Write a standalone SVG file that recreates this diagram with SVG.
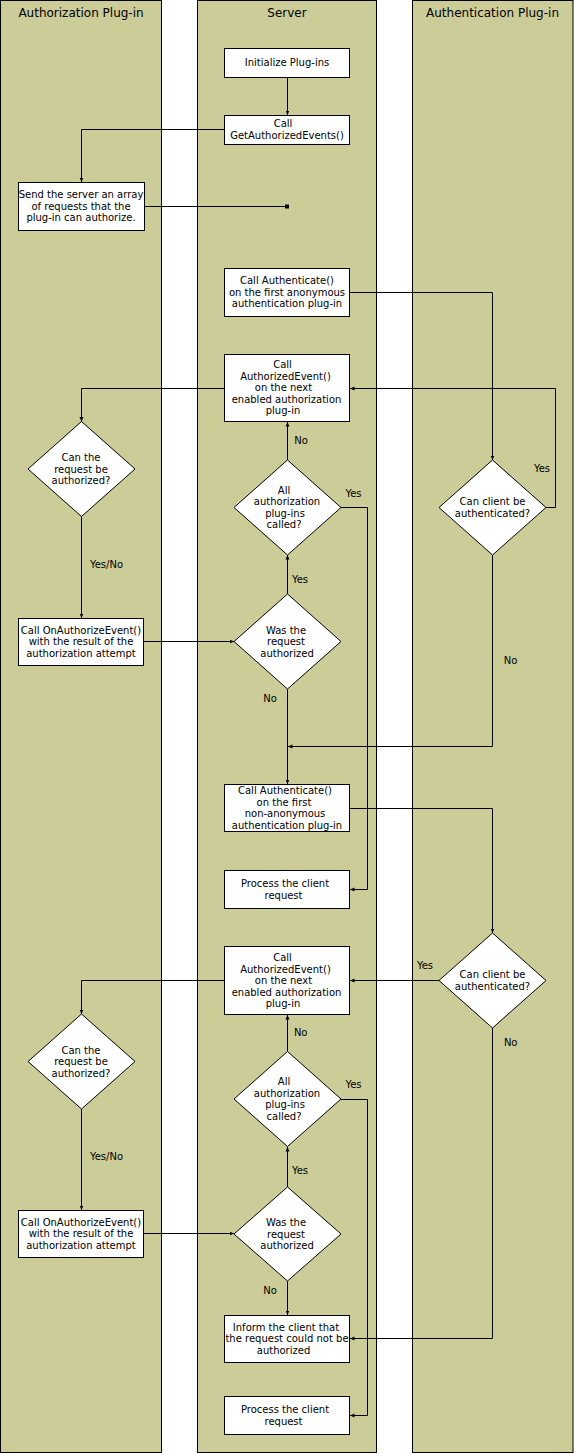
<svg xmlns="http://www.w3.org/2000/svg" width="574" height="1454" viewBox="0 0 574 1454">
<style>
.lane{fill:#CCCC99;stroke:#000;stroke-width:1}
.box{fill:#fff;stroke:#000;stroke-width:1}
.t{font-family:"DejaVu Sans",Verdana,sans-serif;font-size:10px;text-anchor:middle;fill:#000}
.h{font-family:"DejaVu Sans",Verdana,sans-serif;font-size:12px;text-anchor:middle;fill:#000}
.c{fill:none;stroke:#000;stroke-width:1;marker-end:url(#a)}
.cs{fill:none;stroke:#000;stroke-width:1;marker-end:url(#sq)}
</style>
<defs>
<marker id="a" markerUnits="userSpaceOnUse" markerWidth="5" markerHeight="5" viewBox="0 0 5 5" refX="4.5" refY="2.5" orient="auto">
<path d="M0,0.5 L4.5,2.5 L0,4.5 z" fill="#000"/>
</marker>
<marker id="sq" markerUnits="userSpaceOnUse" markerWidth="5" markerHeight="5" viewBox="0 0 5 5" refX="2.5" refY="2.5" orient="auto">
<rect x="0.5" y="0.5" width="4" height="4" fill="#000"/>
</marker>
</defs>
<rect width="574" height="1454" fill="#fff"/>
<g id="lanes">
<rect class="lane" x="0.5" y="0.5" width="161" height="1452"/>
<rect class="lane" x="197.5" y="0.5" width="179" height="1452"/>
<rect class="lane" x="412.5" y="0.5" width="160.5" height="1452"/>
<text class="h" x="81" y="17">Authorization Plug-in</text>
<text class="h" x="287" y="17">Server</text>
<text class="h" x="492.5" y="17">Authentication Plug-in</text>
</g>
<g id="connectors">
<path class="c" d="M287.5,77.5 V115"/>
<path class="c" d="M224.5,129.5 H81.5 V182"/>
<path class="cs" d="M144.5,206.5 H287"/>
<path class="c" d="M349.5,292.5 H492.5 V460"/>
<path class="c" d="M546,507.5 H555.5 V388.5 H350"/>
<path class="c" d="M224.5,388.5 H81.5 V421.5"/>
<path class="c" d="M287.5,460 V422"/>
<path class="c" d="M81.5,516.5 V618"/>
<path class="c" d="M143.5,641.5 H234"/>
<path class="c" d="M287.5,594 V555"/>
<path class="c" d="M341,507.5 H367.5 V889.5 H350"/>
<path class="c" d="M287.5,689 V784"/>
<path class="c" d="M492.5,555 V746.5 H288"/>
<path class="c" d="M349.5,808.5 H492.5 V933"/>
<path class="c" d="M439,980.5 H350"/>
<path class="c" d="M224.5,980.5 H81.5 V1014"/>
<path class="c" d="M287.5,1051.5 V1015"/>
<path class="c" d="M81.5,1109 V1210"/>
<path class="c" d="M143.5,1233.5 H234"/>
<path class="c" d="M287.5,1187 V1147"/>
<path class="c" d="M341,1099.5 H367.5 V1415.5 H350"/>
<path class="c" d="M287.5,1281 V1315"/>
<path class="c" d="M492.5,1028 V1338.5 H350"/>
<text class="t" x="542" y="472">Yes</text>
<text class="t" x="301" y="443.5">No</text>
<text class="t" x="106.5" y="568">Yes/No</text>
<text class="t" x="300" y="583">Yes</text>
<text class="t" x="353.5" y="496.5">Yes</text>
<text class="t" x="270" y="702">No</text>
<text class="t" x="510.5" y="664">No</text>
<text class="t" x="425" y="969">Yes</text>
<text class="t" x="300.7" y="1036">No</text>
<text class="t" x="106.5" y="1160">Yes/No</text>
<text class="t" x="300" y="1174">Yes</text>
<text class="t" x="353.5" y="1088">Yes</text>
<text class="t" x="270" y="1294">No</text>
<text class="t" x="510.7" y="1046">No</text>
</g>
<g id="n1"><rect class="box" x="224.5" y="48.5" width="125" height="29"/>
<text class="t" x="287" y="66">Initialize Plug-ins</text></g>
<g id="n2"><rect class="box" x="224.5" y="115.5" width="125" height="29"/>
<text class="t" x="283" y="127">Call</text><text class="t" x="287" y="138.5">GetAuthorizedEvents()</text></g>
<g id="n3"><rect class="box" x="18.5" y="182.5" width="126" height="48"/>
<text class="t" x="81" y="198">Send the server an array</text><text class="t" x="81" y="209.5">of requests that the</text><text class="t" x="81" y="221">plug-in can authorize.</text></g>
<g id="n4"><rect class="box" x="224.5" y="268.5" width="125" height="48"/>
<text class="t" x="287" y="284">Call Authenticate()</text><text class="t" x="287" y="295.5">on the first anonymous</text><text class="t" x="287" y="307">authentication plug-in</text></g>
<g id="n5"><rect class="box" x="224.5" y="354.5" width="125" height="67"/>
<text class="t" x="282.5" y="368">Call</text><text class="t" x="285.5" y="379.5">AuthorizedEvent()</text><text class="t" x="283.5" y="391">on the next</text><text class="t" x="286.5" y="402.5">enabled authorization</text><text class="t" x="283" y="414">plug-in</text></g>
<g id="n6"><polygon class="box" points="81.5,421.5 135,469 81.5,516.5 28,469"/>
<text class="t" x="81" y="461">Can the</text><text class="t" x="81" y="472.5">request be</text><text class="t" x="81" y="484">authorized?</text></g>
<g id="n7"><polygon class="box" points="287.5,460 341,507.5 287.5,555 234,507.5"/>
<text class="t" x="284" y="493.5">All</text><text class="t" x="287" y="505">authorization</text><text class="t" x="285" y="516.5">plug-ins</text><text class="t" x="284" y="528">called?</text></g>
<g id="n8"><polygon class="box" points="492.5,460 546,507.5 492.5,555 439,507.5"/>
<text class="t" x="492.5" y="505">Can client be</text><text class="t" x="492.5" y="516.5">authenticated?</text></g>
<g id="n9"><rect class="box" x="18.5" y="618.5" width="125" height="47"/>
<text class="t" x="81" y="633.5">Call OnAuthorizeEvent()</text><text class="t" x="81" y="645">with the result of the</text><text class="t" x="81" y="656.5">authorization attempt</text></g>
<g id="n10"><polygon class="box" points="287.5,594 341,641.5 287.5,689 234,641.5"/>
<text class="t" x="286" y="633.5">Was the</text><text class="t" x="286" y="645">request</text><text class="t" x="287" y="656.5">authorized</text></g>
<g id="n11"><rect class="box" x="224.5" y="784.5" width="125" height="47"/>
<text class="t" x="285" y="794">Call Authenticate()</text><text class="t" x="284" y="805.5">on the first</text><text class="t" x="285" y="817">non-anonymous</text><text class="t" x="287" y="828.5">authentication plug-in</text></g>
<g id="n12"><rect class="box" x="224.5" y="870.5" width="125" height="38"/>
<text class="t" x="285" y="887">Process the client</text><text class="t" x="283.5" y="898.5">request</text></g>
<g id="n13"><rect class="box" x="224.5" y="946.5" width="125" height="68"/>
<text class="t" x="282.5" y="961">Call</text><text class="t" x="285.5" y="972.5">AuthorizedEvent()</text><text class="t" x="283.5" y="984">on the next</text><text class="t" x="286.5" y="995.5">enabled authorization</text><text class="t" x="283" y="1007">plug-in</text></g>
<g id="n14"><polygon class="box" points="492.5,933 546,980.5 492.5,1028 439,980.5"/>
<text class="t" x="492.5" y="978">Can client be</text><text class="t" x="492.5" y="989.5">authenticated?</text></g>
<g id="n15"><polygon class="box" points="81.5,1014 135,1061.5 81.5,1109 28,1061.5"/>
<text class="t" x="81" y="1053.5">Can the</text><text class="t" x="81" y="1065">request be</text><text class="t" x="81" y="1076.5">authorized?</text></g>
<g id="n16"><polygon class="box" points="287.5,1051.5 341,1099 287.5,1146.5 234,1099"/>
<text class="t" x="284" y="1085">All</text><text class="t" x="287" y="1096.5">authorization</text><text class="t" x="285" y="1108">plug-ins</text><text class="t" x="284" y="1119.5">called?</text></g>
<g id="n17"><rect class="box" x="18.5" y="1210.5" width="125" height="47"/>
<text class="t" x="81" y="1225.5">Call OnAuthorizeEvent()</text><text class="t" x="81" y="1237">with the result of the</text><text class="t" x="81" y="1248.5">authorization attempt</text></g>
<g id="n18"><polygon class="box" points="287.5,1187 341,1234 287.5,1281 234,1234"/>
<text class="t" x="286" y="1226">Was the</text><text class="t" x="286" y="1237.5">request</text><text class="t" x="287" y="1249">authorized</text></g>
<g id="n19"><rect class="box" x="224.5" y="1315.5" width="125" height="47"/>
<text class="t" x="286" y="1330.5">Inform the client that</text><text class="t" x="287" y="1342">the request could not be</text><text class="t" x="283.5" y="1353.5">authorized</text></g>
<g id="n20"><rect class="box" x="224.5" y="1396.5" width="125" height="38"/>
<text class="t" x="285" y="1413">Process the client</text><text class="t" x="283.5" y="1424.5">request</text></g>
</svg>
